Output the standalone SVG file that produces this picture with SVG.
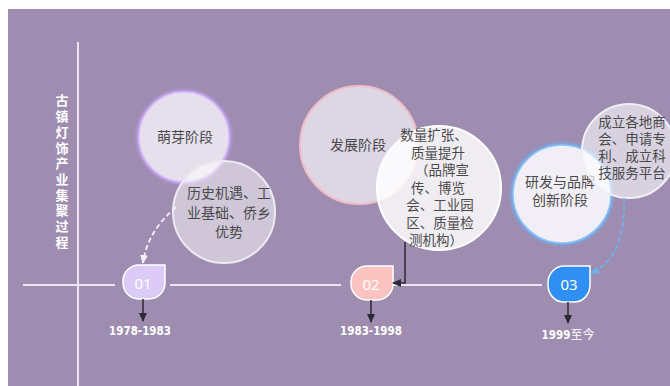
<svg xmlns="http://www.w3.org/2000/svg" width="670" height="386" viewBox="0 0 670 386">
<defs>
<style>
.cn{font-family:"Noto Sans CJK SC","Noto Sans",sans-serif;fill:#4a4a4a;font-size:14px;text-anchor:middle}
.sm{font-size:13.5px}
.num{font-family:"Noto Sans","Liberation Sans",sans-serif;fill:#ffffff;font-size:15px;text-anchor:middle}
.date{font-family:"DejaVu Sans Condensed","DejaVu Sans",sans-serif;font-weight:bold;fill:#ffffff;font-size:11.5px;text-anchor:middle}
.axis{stroke:#ece6f2;stroke-width:2;fill:none}
.down{stroke:#2e2a33;stroke-width:1.5;fill:none}
</style>
<path id="drop" d="M42,0 V18 A16,16 0 0 1 26,34 H16 A16,16 0 0 1 0,18 V16 A16,16 0 0 1 16,0 Z"/>
<marker id="ad" markerUnits="userSpaceOnUse" markerWidth="10" markerHeight="10" refX="8" refY="4" orient="auto" viewBox="0 0 10 8">
<path d="M0,0 L9,4 L0,8 Z" fill="#2e2a33"/>
</marker>
<marker id="aw" markerUnits="userSpaceOnUse" markerWidth="10" markerHeight="10" refX="8" refY="4" orient="auto" viewBox="0 0 10 8">
<path d="M0,0 L9,4 L0,8 Z" fill="#f4f0f8"/>
</marker>
<marker id="ab" markerUnits="userSpaceOnUse" markerWidth="10" markerHeight="10" refX="8" refY="4" orient="auto" viewBox="0 0 10 8">
<path d="M0,0 L9,4 L0,8 Z" fill="#6eb2f2"/>
</marker>
<filter id="glow" x="-20%" y="-20%" width="140%" height="140%">
<feGaussianBlur stdDeviation="1.5"/>
</filter>
</defs>
<rect x="0" y="0" width="670" height="386" fill="#ffffff"/>
<rect x="8" y="9" width="662" height="377" fill="#9e8db0"/>

<g id="axes">
<line class="axis" x1="78" y1="42" x2="78" y2="386"/>
<line class="axis" x1="23" y1="285" x2="115" y2="285"/>
<line class="axis" x1="170" y1="285" x2="341" y2="285"/>
<line class="axis" x1="393" y1="285" x2="542" y2="285"/>
</g>

<g id="title">
<text x="62" y="94" style="font-family:'Noto Sans CJK SC',sans-serif;font-weight:bold;font-size:13px;fill:#ffffff;writing-mode:vertical-rl;letter-spacing:2.7px">古镇灯饰产业集聚过程</text>
</g>

<g id="stage1">
<circle cx="184" cy="137" r="45" fill="none" stroke="#c9a2fa" stroke-width="4" filter="url(#glow)"/>
<circle cx="184" cy="137" r="45" fill="#e6e0ec" stroke="#d7bdf8" stroke-width="1.5"/>
<text class="cn" x="185" y="142">萌芽阶段</text>
</g>
<g id="factor1">
<circle cx="224" cy="212" r="51" fill="#ffffff" fill-opacity="0.5" stroke="#efe9f3" stroke-width="2"/>
<text class="cn"><tspan x="229" y="198">历史机遇、工</tspan><tspan x="229" y="218">业基础、侨乡</tspan><tspan x="229" y="237">优势</tspan></text>
</g>

<g id="stage2">
<circle cx="359" cy="145" r="59" fill="#ddd6e4" stroke="#f2bcc6" stroke-width="2"/>
<text class="cn" x="358" y="150">发展阶段</text>
</g>
<g id="factor2">
<circle cx="439" cy="188" r="62" fill="#ffffff" fill-opacity="0.84" stroke="#ffffff" stroke-width="2"/>
<text class="cn sm"><tspan x="434" y="140">数量扩张、</tspan><tspan x="438" y="157.5">质量提升</tspan><tspan x="442" y="175">（品牌宣</tspan><tspan x="438" y="192.5">传、博览</tspan><tspan x="440" y="210">会、工业园</tspan><tspan x="440" y="227.5">区、质量检</tspan><tspan x="436" y="245">测机构）</tspan></text>
</g>

<g id="stage3">
<circle cx="562" cy="194" r="49" fill="none" stroke="#6ab0f5" stroke-width="4" filter="url(#glow)"/>
<circle cx="562" cy="194" r="49" fill="#f1eff5" stroke="#8cc2f5" stroke-width="1.5"/>
<text class="cn"><tspan x="560" y="187">研发与品牌</tspan><tspan x="560" y="205">创新阶段</tspan></text>
</g>
<g id="factor3">
<circle cx="629" cy="151" r="47" fill="#ffffff" fill-opacity="0.6" stroke="#f2eef6" stroke-width="2"/>
<text class="cn sm"><tspan x="632" y="127">成立各地商</tspan><tspan x="632" y="144">会、申请专</tspan><tspan x="632" y="161">利、成立科</tspan><tspan x="632" y="178">技服务平台</tspan></text>
</g>

<g id="node01">
<use href="#drop" x="123" y="265" fill="#dccbf6" stroke="#ffffff" stroke-width="1.5"/>
<text class="num" x="143" y="289">01</text>
<text class="date" x="140" y="335">1978-1983</text>
</g>
<g id="node02">
<use href="#drop" x="351" y="266" fill="#fbc3c0" stroke="#ffffff" stroke-width="1.5"/>
<text class="num" x="371" y="290">02</text>
<text class="date" x="371" y="335">1983-1998</text>
</g>
<g id="node03">
<use href="#drop" x="548" y="266" fill="#2f8ff2" stroke="#ffffff" stroke-width="1.5" transform="translate(548 266) scale(1 1.06) translate(-548 -266)"/>
<text class="num" x="569" y="290">03</text>
<text x="568" y="339" style="font-family:'DejaVu Sans Condensed','Noto Sans CJK SC',sans-serif;fill:#ffffff;font-size:11.5px;text-anchor:middle"><tspan font-weight="bold">1999</tspan><tspan style="font-family:'Noto Sans CJK SC',sans-serif;font-size:12px">至今</tspan></text>
</g>

<g id="connectors">
<path class="down" d="M143,299 V321" marker-end="url(#ad)"/>
<path class="down" d="M371,300 V322" marker-end="url(#ad)"/>
<path class="down" d="M568,302 V323" marker-end="url(#ad)"/>
<path d="M405,242 V283 H393" fill="none" stroke="#2e2a33" stroke-width="1.5" marker-end="url(#ad)"/>
<path d="M176,207 Q147,232 143,263" fill="none" stroke="#f4f0f8" stroke-width="1.8" stroke-dasharray="5,3" marker-end="url(#aw)"/>
<path d="M624,198 Q626,258 591,273" fill="none" stroke="#6eb2f2" stroke-width="1.8" stroke-dasharray="5,3" marker-end="url(#ab)"/>
</g>
</svg>
